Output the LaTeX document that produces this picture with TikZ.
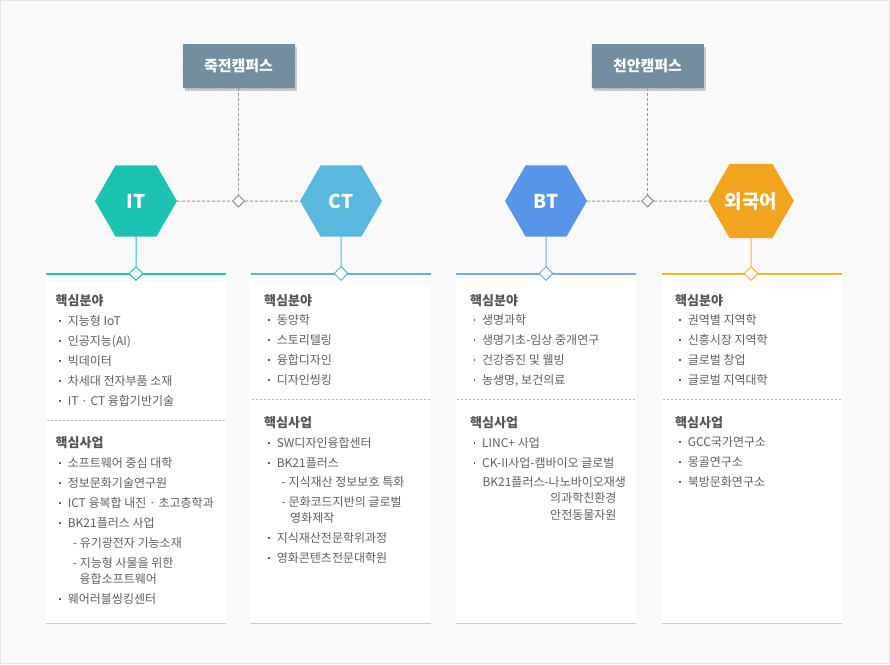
\documentclass[tikz,border=0pt]{standalone}
\usepackage{fontspec}
\setmainfont{Noto Sans CJK KR}
\usetikzlibrary{shapes.geometric,patterns,shadows}

\definecolor{bgcol}{HTML}{F9F9F9}
\definecolor{framecol}{HTML}{E6E6E6}
\definecolor{campusgray}{HTML}{6F8B9D}
\definecolor{campushatch}{HTML}{7C97A8}
\definecolor{shadowgray}{HTML}{CACACA}
\definecolor{joingray}{HTML}{8C8C8C}
\definecolor{dashgray}{HTML}{9A9A9A}
\definecolor{sepgray}{HTML}{B4B4B4}
\definecolor{footgray}{HTML}{C3CBD3}
\definecolor{headgray}{HTML}{555555}
\definecolor{textgray}{HTML}{606060}
\definecolor{ithex}{HTML}{1CC2B3}
\definecolor{itline}{HTML}{1CC2B3}
\definecolor{cthex}{HTML}{5AB8DE}
\definecolor{ctline}{HTML}{5AB5DC}
\definecolor{bthex}{HTML}{5795E8}
\definecolor{btline}{HTML}{72A8EE}
\definecolor{flhex}{HTML}{F2A41F}
\definecolor{flline}{HTML}{F3B32A}

\newcommand{\bul}{\rule[3.7pt]{1.6pt}{1.6pt}\hspace{6.8pt}}

\tikzset{
  campus/.style={minimum width=112pt, minimum height=44pt, inner sep=0pt,
    drop shadow={shadow xshift=2.5pt, shadow yshift=-2.5pt, fill=shadowgray, opacity=1},
    preaction={fill=campusgray}, pattern=north east lines, pattern color=campushatch,
    text=white, font=\fontsize{15}{15}\selectfont\bfseries},
  hexa/.style={regular polygon, regular polygon sides=6, minimum size=82pt,
    inner sep=0pt, text=white, font=\fontsize{19}{19}\selectfont\bfseries},
  joint/.style={diamond, draw=joingray, line width=1pt, fill=white, minimum size=12pt, inner sep=0pt},
  coljoint/.style={diamond, draw=#1, line width=1pt, fill=white, minimum size=14pt, inner sep=0pt},
  dashline/.style={draw=dashgray, line width=1pt, dash pattern=on 3pt off 2pt},
  sepline/.style={draw=sepgray, line width=1pt, dash pattern=on 2pt off 2pt},
  link/.style={draw=#1, line width=1pt},
  head/.style={anchor=west, inner sep=0pt, text height=10pt, text depth=1pt,
    text=headgray, font=\fontsize{13}{13}\selectfont\bfseries},
  item/.style={anchor=west, inner sep=0pt, text height=10pt, text depth=1pt,
    text=textgray, font=\fontsize{12}{12}\selectfont}
}

\begin{document}
\begin{tikzpicture}[x=1pt,y=-1pt]
\useasboundingbox (0,0) rectangle (890,664);
\fill[bgcol] (0,0) rectangle (890,664);
\draw[framecol, line width=1pt] (0.5,0.5) rectangle (889.5,663.5);

% columns
\foreach \cx/\lc in {136/itline, 341/ctline, 546/btline, 752/flline} {
  \fill[white] (\cx-90,273) rectangle (\cx+90,623);
  \draw[footgray, line width=1pt] (\cx-90,623) -- (\cx+90,623);
  \draw[\lc, line width=2pt] (\cx-90,273.5) -- (\cx+90,273.5);
}
\draw[sepline] (47,420.5) -- (226,420.5);
\foreach \cx in {341, 546, 752}
  \draw[sepline] (\cx-89,399.5) -- (\cx+89,399.5);

% campuses
\node[campus] (jukjeon) at (238.5,66) {죽전캠퍼스};
\node[campus] (cheonan) at (647.5,66) {천안캠퍼스};
\node[joint] (jj) at (238.5,201) {};
\node[joint] (cj) at (647.5,201) {};

% hexagons
\node[hexa, fill=ithex] (it) at (136,201) {IT};
\node[hexa, fill=cthex] (ct) at (341,201) {CT};
\node[hexa, fill=bthex] (bt) at (546,201) {BT};
\node[hexa, fill=flhex] (fl) at (751,201) {외국어};

\node[coljoint=itline] (itd) at (136,273.5) {};
\node[coljoint=ctline] (ctd) at (341,273.5) {};
\node[coljoint=btline] (btd) at (546,273.5) {};
\node[coljoint=flline] (fld) at (751,273.5) {};

\draw[dashline] (jukjeon) -- (jj);
\draw[dashline] (it) -- (jj) -- (ct);
\draw[dashline] (cheonan) -- (cj);
\draw[dashline] (bt) -- (cj) -- (fl);
\draw[link=itline] (it) -- (itd);
\draw[link=ctline] (ct) -- (ctd);
\draw[link=btline] (bt) -- (btd);
\draw[link=flline] (fl) -- (fld);

% IT column
\node[head] (it-h1) at (55.5,301) {핵심분야};
\foreach \t [count=\i] in {지능형 IoT, 인공지능(AI), 빅데이터, 차세대 전자부품 소재, IT · CT 융합기반기술}
  \node[item] (it-f\i) at (59.2,301+20*\i) {\bul\t};
\node[head] (it-h2) at (55.5,443) {핵심사업};
\foreach \t [count=\i] in {소프트웨어 중심 대학, 정보문화기술연구원, ICT 융복합 내진 · 초고층학과, BK21플러스 사업}
  \node[item] (it-p\i) at (59.2,443+20*\i) {\bul\t};
\node[item] (it-s1) at (72.7,543) {- 유기광전자 기능소재};
\node[item] (it-s2) at (72.7,563) {- 지능형 사물을 위한};
\node[item] (it-s2b) at (79.5,579) {융합소프트웨어};
\node[item] (it-p5) at (59.2,599) {\bul 웨어러블씽킹센터};

% CT column
\node[head] (ct-h1) at (264,301) {핵심분야};
\foreach \t [count=\i] in {동양학, 스토리텔링, 융합디자인, 디자인씽킹}
  \node[item] (ct-f\i) at (268.2,300+20*\i) {\bul\t};
\node[head] (ct-h2) at (264,423) {핵심사업};
\node[item] (ct-p1) at (268.2,443) {\bul SW디자인융합센터};
\node[item] (ct-p2) at (268.2,463) {\bul BK21플러스};
\node[item] (ct-s1) at (281.5,482) {- 지식재산 정보보호 특화};
\node[item] (ct-s2) at (281.5,502) {- 문화코드지반의 글로벌};
\node[item] (ct-s2b) at (290,518) {영화제작};
\node[item] (ct-p3) at (268.2,538) {\bul 지식재산전문학위과정};
\node[item] (ct-p4) at (268.2,558) {\bul 영화콘텐츠전문대학원};

% BT column
\node[head] (bt-h1) at (470,301) {핵심분야};
\foreach \t [count=\i] in {생명과학, 생명기초-임상 중개연구, 건강증진 및 웰빙, {농생명, 보건의료}}
  \node[item] (bt-f\i) at (473.5,300+20*\i) {\bul\t};
\node[head] (bt-h2) at (470,423) {핵심사업};
\node[item] (bt-p1) at (473.5,443) {\bul LINC+ 사업};
\node[item] (bt-p2) at (473.5,463) {\bul CK-II사업-캠바이오 글로벌};
\node[item] (bt-p2b) at (482.3,482) {BK21플러스-나노바이오재생};
\node[item] (bt-p2c) at (550,498) {의과학친환경};
\node[item] (bt-p2d) at (550,515) {안전동물자원};

% foreign language column
\node[head] (fl-h1) at (675,301) {핵심분야};
\foreach \t [count=\i] in {권역별 지역학, 신흥시장 지역학, 글로벌 창업, 글로벌 지역대학}
  \node[item] (fl-f\i) at (679.2,300+20*\i) {\bul\t};
\node[head] (fl-h2) at (675,423) {핵심사업};
\foreach \t [count=\i] in {GCC국가연구소, 몽골연구소, 북방문화연구소}
  \node[item] (fl-p\i) at (679.2,422+20*\i) {\bul\t};
\end{tikzpicture}
\end{document}
